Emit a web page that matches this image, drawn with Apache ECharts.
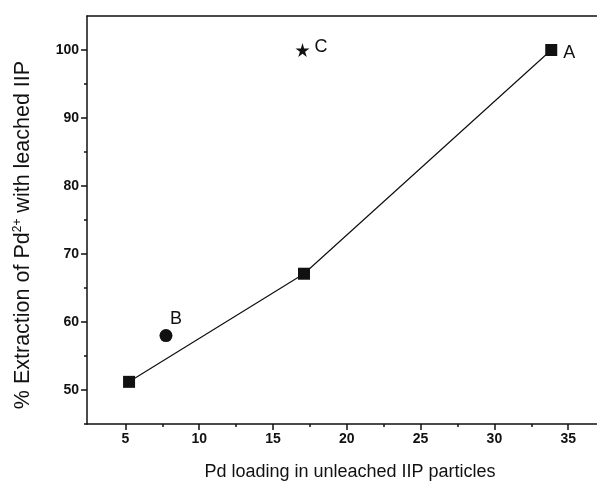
<!DOCTYPE html>
<html>
<head>
<meta charset="utf-8">
<script src="https://cdn.jsdelivr.net/npm/echarts@6/dist/echarts.min.js"></script>
<style>
  html, body { margin: 0; padding: 0; background: #fff; }
  #chart { width: 597px; height: 489px; }
</style>
</head>
<body>
<div id="chart"></div>
<script>
    // Pd loading vs extraction, series
    var loading = [5.25, 17.1, 33.85];
    var extraction = [51.2, 67.1, 100];
    var pointB = [7.75, 58];
    var pointC = [17.0, 100];
    var pointLabels = ['A', 'B', 'C'];

    var xMajor = [5, 10, 15, 20, 25, 30, 35];
    var xMinor = [7.5, 12.5, 17.5, 22.5, 27.5, 32.5];
    var yMajor = [50, 60, 70, 80, 90, 100];
    var yMinor = [45, 55, 65, 75, 85, 95];

    var ink = '#111';
    var font = 'Liberation Sans';
    var star = 'path://M50,0 L61,35 L98,35 L68,57 L79,91 L50,70 L21,91 L32,57 L2,35 L39,35 Z';

    var lineData = loading.map(function (x, i) {
        var item = { value: [x, extraction[i]] };
        if (i === loading.length - 1) {
            item.label = {
                show: true, formatter: pointLabels[0], position: 'right',
                distance: 6, offset: [0, 3], color: ink, fontFamily: font, fontSize: 18
            };
        }
        return item;
    });

    function xAxis(ticks, len, labels, pos) {
        return {
            type: 'value', min: 2.4, max: 36.95, position: pos || 'bottom',
            axisLine: { show: labels || pos === 'top', onZero: false, lineStyle: { color: ink, width: 1.5 } },
            axisTick: { show: pos !== 'top', inside: false, length: len, customValues: ticks, lineStyle: { color: ink, width: 1.5 } },
            axisLabel: { show: labels, customValues: ticks, color: ink, fontFamily: font, fontSize: 14, fontWeight: 'bold', margin: 8 },
            splitLine: { show: false },
            name: labels ? 'Pd loading in unleached IIP particles' : '',
            nameLocation: 'middle', nameGap: 39,
            nameTextStyle: { color: ink, fontFamily: font, fontSize: 18, padding: [0, 0, 0, 16] }
        };
    }

    function yAxis(ticks, len, labels) {
        return {
            type: 'value', min: 45, max: 105, position: 'left',
            axisLine: { show: labels, onZero: false, lineStyle: { color: ink, width: 1.5 } },
            axisTick: { show: true, inside: false, length: len, customValues: ticks, lineStyle: { color: ink, width: 1.5 } },
            axisLabel: { show: labels, customValues: ticks, color: ink, fontFamily: font, fontSize: 14, fontWeight: 'bold', margin: 8 },
            splitLine: { show: false },
            name: labels ? '% Extraction of Pd{sup|2+} with leached IIP' : '',
            nameLocation: 'middle', nameGap: 52, nameRotate: 90,
            nameTextStyle: {
                color: ink, fontFamily: font, fontSize: 21.5,
                padding: [0, 30, 0, 0],
                rich: { sup: { fontFamily: font, fontSize: 12, color: ink, padding: [0, 0, 11, 0] } }
            }
        };
    }

    var chart = echarts.init(document.getElementById('chart'));
    chart.setOption({
        animation: false,
        backgroundColor: '#fff',
        grid: { left: 87, top: 16, right: 0, height: 408 },
        xAxis: [xAxis(xMajor, 6, true), xAxis(xMinor, 3, false), xAxis([], 0, false, 'top')],
        yAxis: [yAxis(yMajor, 6, true), yAxis(yMinor, 3, false)],
        series: [
            {
                type: 'line', data: lineData,
                symbol: 'rect', symbolSize: 12,
                itemStyle: { color: ink, opacity: 1 },
                lineStyle: { color: ink, width: 1.2 }
            },
            {
                type: 'scatter', data: [pointB],
                symbol: 'circle', symbolSize: 13,
                itemStyle: { color: ink, opacity: 1 },
                label: {
                    show: true, formatter: pointLabels[1], position: 'top',
                    offset: [10, 4], color: ink, fontFamily: font, fontSize: 18
                }
            },
            {
                type: 'scatter', data: [pointC],
                symbol: star, symbolSize: 14,
                itemStyle: { color: ink, opacity: 1 },
                label: {
                    show: true, formatter: pointLabels[2], position: 'right',
                    distance: 5, offset: [0, -3], color: ink, fontFamily: font, fontSize: 18
                }
            }
        ]
    });
</script>
</body>
</html>
